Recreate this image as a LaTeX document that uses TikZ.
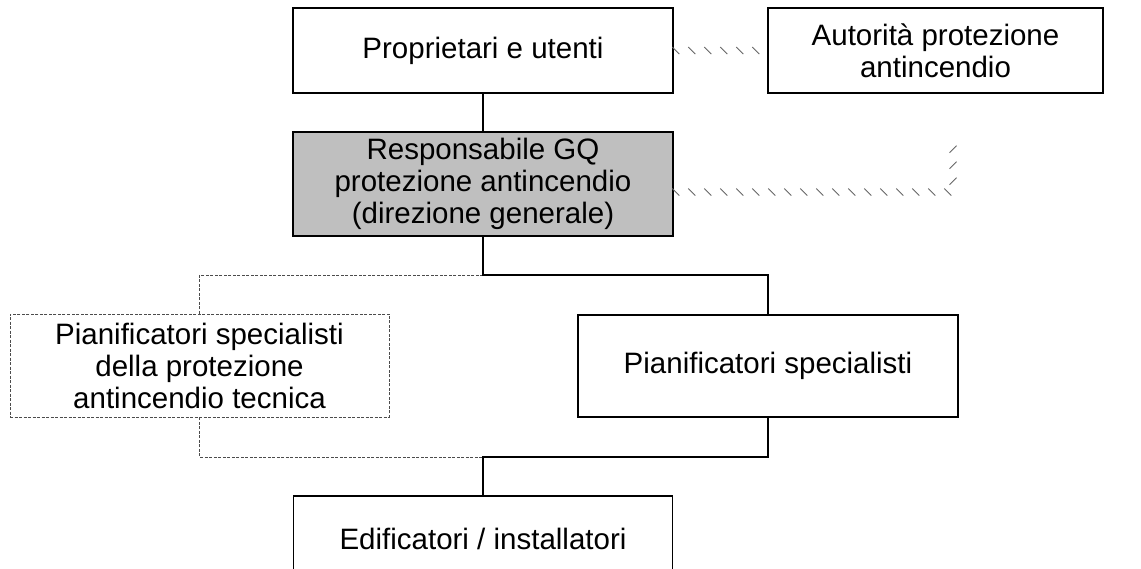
\documentclass[tikz,border=0pt]{standalone}
\usepackage{fontspec}
\setmainfont{Liberation Sans}
\usetikzlibrary{decorations.markings}
\begin{document}
\begin{tikzpicture}[x=1pt,y=-1pt,
  box/.style={draw=black,line width=1.6pt,fill=white,inner sep=0pt,align=center,
    font=\fontsize{29.5}{32}\selectfont,text=black},
  solidline/.style={draw=black,line width=1.6pt},
  dashline/.style={draw=black!70,line width=0.8pt,dash pattern=on 3pt off 1.5pt},
  hatch/.style={decoration={markings,
    mark=between positions 2pt and 1 step 16pt with {\draw[black!60,line width=0.9pt] (-3.5pt,3.5pt)--(3.5pt,-3.5pt);}},
    postaction={decorate}}]
\clip (0,0) rectangle (1141,569);
\fill[white] (0,0) rectangle (1141,569);
\node[box,minimum width=380pt,minimum height=85pt] (prop) at (483,50.5) {Proprietari e utenti};
\node[box,minimum width=335pt,minimum height=85pt] (aut) at (935.5,50.5) {Autorità protezione\\antincendio};
\node[box,fill=black!25,minimum width=380pt,minimum height=104pt] (resp) at (483,184) {Responsabile GQ\\protezione antincendio\\(direzione generale)};
\node[box,dashline,minimum width=379pt,minimum height=103pt] (pst) at (199.5,365.5) {Pianificatori specialisti\\della protezione\\antincendio tecnica};
\node[box,minimum width=380pt,minimum height=102pt] (ps) at (768,366) {Pianificatori specialisti};
\node[box,minimum width=379pt,minimum height=85pt] (edi) at (483,538.5) {Edificatori / installatori};
\coordinate (j1) at (483,275);
\coordinate (j2) at (483,457);
\coordinate (hc) at (953,192);
\coordinate (hend) at (953,137);
\draw[solidline] (prop.south) -- (resp.north);
\draw[dashline] (j1) -| (pst.north);
\draw[dashline] (pst.south) |- (j2);
\draw[solidline] (resp.south) -- (j1) -| (ps.north);
\draw[solidline] (ps.south) |- (j2) -- (edi.north);
\path[hatch] (prop.east) -- (aut.west);
\path[hatch] (resp.east |- hc) -- (hc) -- (hend);
\end{tikzpicture}
\end{document}
